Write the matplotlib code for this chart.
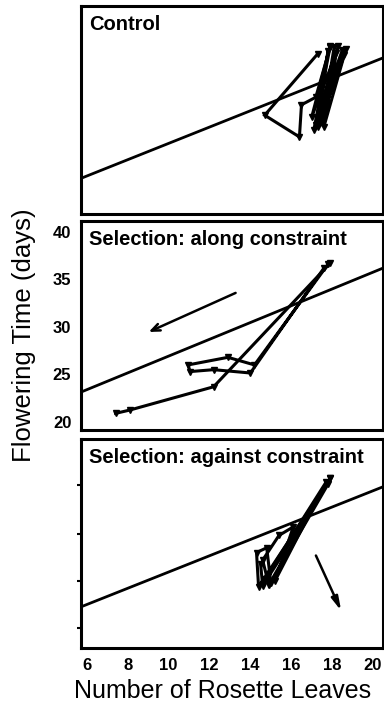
import matplotlib
matplotlib.use("Agg")
import matplotlib.pyplot as plt

plt.rcParams['font.family'] = ['Liberation Sans', 'DejaVu Sans']

# Panel titles
titles = ["Control", "Selection: along constraint", "Selection: against constraint"]

# Genetic constraint line per panel: flowering time = intercept + slope * leaves
line_intercept = [18.0, 18.1, 18.6]
line_slope = [0.862, 0.883, 0.855]

# Trajectories (rosette leaves, flowering days), two replicate lines per panel
control_a_x = [17.3, 14.7, 16.4, 16.5, 17.2, 17.9, 17.1, 18.3, 17.3, 18.7, 17.4]
control_a_y = [36.1, 29.6, 27.3, 30.7, 31.5, 36.8, 28.0, 36.9, 28.3, 36.6, 28.8]
control_b_x = [18.1, 17.5, 18.5, 17.2, 17.8, 17.4, 18.6, 17.6, 18.2, 17.0, 17.9]
control_b_y = [36.8, 29.0, 36.5, 28.6, 36.4, 30.0, 36.0, 28.4, 36.2, 29.4, 36.9]

along_a_x = [17.9, 12.2, 8.1, 7.4]
along_a_y = [36.7, 23.7, 21.25, 20.9]
along_b_x = [17.8, 14.2, 12.9, 10.95, 11.05, 12.2, 14.0, 17.6]
along_b_y = [36.6, 26.0, 26.8, 26.0, 25.3, 25.5, 25.15, 36.2]

against_a_x = [17.9, 14.4, 14.3, 14.8, 15.0, 17.8, 14.6, 14.5]
against_a_y = [37.0, 25.6, 29.2, 29.7, 26.0, 36.4, 25.7, 28.0]
against_b_x = [17.9, 14.9, 14.6, 15.4, 16.1, 15.2, 17.7, 14.7]
against_b_y = [37.0, 25.8, 28.4, 31.0, 31.9, 26.2, 36.6, 26.4]

series = [
    [(control_a_x, control_a_y), (control_b_x, control_b_y)],
    [(along_a_x, along_a_y), (along_b_x, along_b_y)],
    [(against_a_x, against_a_y), (against_b_x, against_b_y)],
]

# Direction of selection (start, end) in data units
sel_along = ((13.4, 33.7), (8.9, 29.35))
sel_against = ((17.15, 29.15), (18.5, 22.8))

x_ticks = [6, 8, 10, 12, 14, 16, 18, 20]
y_ticks = [20, 25, 30, 35, 40]
panel3_yticks = [21.25, 26.2, 31.2, 36.3]

xlim = (5.71, 20.49)
ylim = (19.15, 41.15)

fig = plt.figure(figsize=(3.84, 7.04), dpi=100)
W, H = 384, 704
left, right = 81, 383
boxes = [(6, 214), (221, 430), (439, 648)]

axes = []
for i, (top, bot) in enumerate(boxes):
    ax = fig.add_axes([left / W, 1 - bot / H, (right - left) / W, (bot - top) / H])
    axes.append(ax)
    ax.set_xlim(*xlim)
    ax.set_ylim(*ylim)
    for s in ax.spines.values():
        s.set_linewidth(2.2)
        s.set_color('black')
    # constraint line
    ax.plot(list(xlim), [line_intercept[i] + line_slope[i] * v for v in xlim],
            color='black', lw=2.0, solid_capstyle='butt')
    for xs, ys in series[i]:
        ax.plot(xs, ys, color='black', lw=2.2, marker='v', ms=5,
                solid_joinstyle='miter')
    ax.text(8 / (right - left), 1 - 9 / (bot - top), titles[i], transform=ax.transAxes,
            ha='left', va='top', fontsize=14.5, fontweight='bold')
    ax.set_xticks([])
    ax.set_yticks([])

# y axis labels on the middle panel
axes[1].set_yticks(y_ticks)
axes[1].set_yticklabels([str(v) for v in y_ticks], fontsize=12, fontweight='bold')
axes[1].tick_params(axis='y', length=0, pad=7)

# unlabeled ticks on bottom panel
axes[2].set_yticks(panel3_yticks)
axes[2].set_yticklabels([])
axes[2].tick_params(axis='y', length=3, width=1.5, direction='out')
axes[2].set_xticks(x_ticks)
axes[2].set_xticklabels([str(v) for v in x_ticks], fontsize=12, fontweight='bold')
axes[2].tick_params(axis='x', length=0, pad=7)
axes[2].set_xlabel("Number of Rosette Leaves", fontsize=18)
axes[2].xaxis.set_label_coords(0.47, -0.148)

# selection arrows
axes[1].annotate("", xy=sel_along[1], xytext=sel_along[0],
                 arrowprops=dict(arrowstyle='->,head_length=0.6,head_width=0.25',
                                 lw=1.8, color='black'))
axes[2].annotate("", xy=sel_against[1], xytext=sel_against[0],
                 arrowprops=dict(arrowstyle='-|>,head_length=0.8,head_width=0.2',
                                 lw=1.8, color='black'))

fig.text(24 / W, 1 - 335 / H, "Flowering Time (days)", rotation=90,
         ha='center', va='center', fontsize=18.5)

fig.savefig("out.png", dpi=100)
